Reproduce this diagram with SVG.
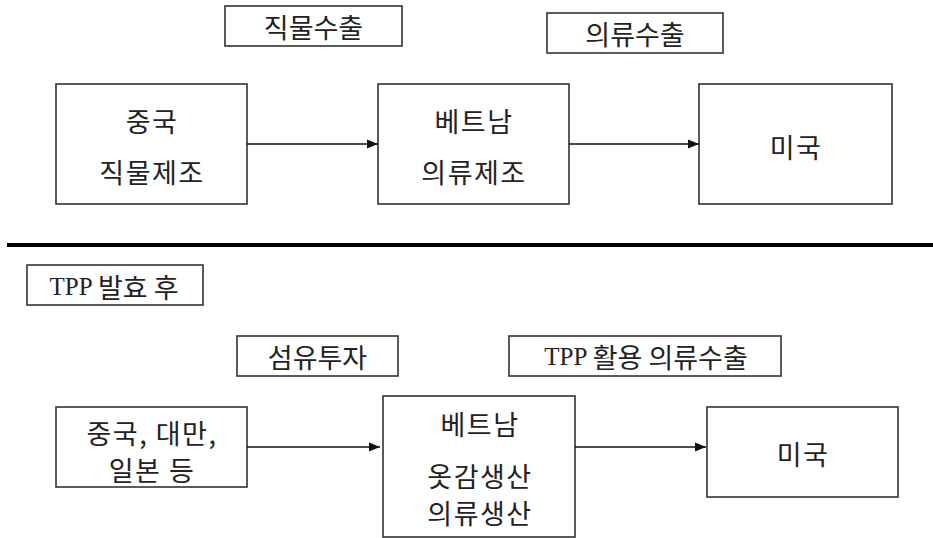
<svg xmlns="http://www.w3.org/2000/svg" width="933" height="538" viewBox="0 0 933 538">
<style>
.box{fill:#fff;stroke:#333;stroke-width:1.6}
.t{font-family:"Noto Sans CJK KR","Liberation Sans",sans-serif;font-size:27px;letter-spacing:1.5px;fill:#222;text-anchor:middle;dominant-baseline:central}
.l{font-family:"Noto Sans CJK KR","Liberation Sans",sans-serif;font-size:27px;fill:#222;text-anchor:middle;dominant-baseline:central}
.s{font-family:"Liberation Serif","Noto Sans CJK KR",serif;font-size:25px;fill:#222;text-anchor:middle;dominant-baseline:central}
.k{font-family:"Noto Sans CJK KR","Liberation Sans",sans-serif;font-size:27px}
.c{stroke:#111;stroke-width:1.3;fill:none}
</style>
<defs>
<marker id="ah" markerUnits="userSpaceOnUse" markerWidth="12" markerHeight="10" refX="11" refY="5" orient="auto">
<path d="M0,0.5 L11,5 L0,9.5 Z" fill="#111"/>
</marker>
</defs>
<g id="label-fabric-export"><rect class="box" x="225" y="6" width="177" height="40"/><text class="l" x="313.5" y="26">직물수출</text></g>
<g id="label-clothing-export"><rect class="box" x="547" y="13" width="176" height="40"/><text class="l" x="635" y="33">의류수출</text></g>
<g id="china-top"><rect class="box" x="56" y="84" width="191" height="120"/><text class="t" x="152" y="120">중국</text><text class="t" x="152" y="171">직물제조</text></g>
<g id="vietnam-top"><rect class="box" x="378" y="84" width="191" height="120"/><text class="t" x="474" y="120">베트남</text><text class="t" x="474" y="171">의류제조</text></g>
<g id="usa-top"><rect class="box" x="699" y="84" width="193" height="120"/><text class="t" x="796" y="146">미국</text></g>
<line id="divider" x1="7" y1="245" x2="933" y2="245" stroke="#000" stroke-width="4"/>
<g id="label-tpp"><rect class="box" x="27" y="265" width="176" height="40"/><text class="s" x="114" y="286">TPP <tspan class="k">발효 후</tspan></text></g>
<g id="label-fiber-invest"><rect class="box" x="237" y="336" width="161" height="40"/><text class="l" x="317.5" y="356">섬유투자</text></g>
<g id="label-tpp-export"><rect class="box" x="509" y="336" width="272" height="40"/><text class="s" x="646" y="356">TPP <tspan class="k">활용 의류수출</tspan></text></g>
<g id="origin-bottom"><rect class="box" x="56" y="407" width="191" height="80"/><text class="t" x="152" y="432">중국, 대만,</text><text class="t" x="152" y="469.5">일본 등</text></g>
<g id="vietnam-bottom"><rect class="box" x="383" y="396" width="192" height="141"/><text class="t" x="480" y="423">베트남</text><text class="t" x="480" y="475">옷감생산</text><text class="t" x="480" y="512.5">의류생산</text></g>
<g id="usa-bottom"><rect class="box" x="707" y="407" width="191" height="90"/><text class="t" x="803" y="453">미국</text></g>
<g id="connectors">
<line class="c" x1="247" y1="144" x2="378" y2="144" marker-end="url(#ah)"/>
<line class="c" x1="569" y1="144" x2="699" y2="144" marker-end="url(#ah)"/>
<line class="c" x1="247" y1="447" x2="380" y2="447" marker-end="url(#ah)"/>
<line class="c" x1="575" y1="447" x2="706" y2="447" marker-end="url(#ah)"/>
</g>
</svg>
